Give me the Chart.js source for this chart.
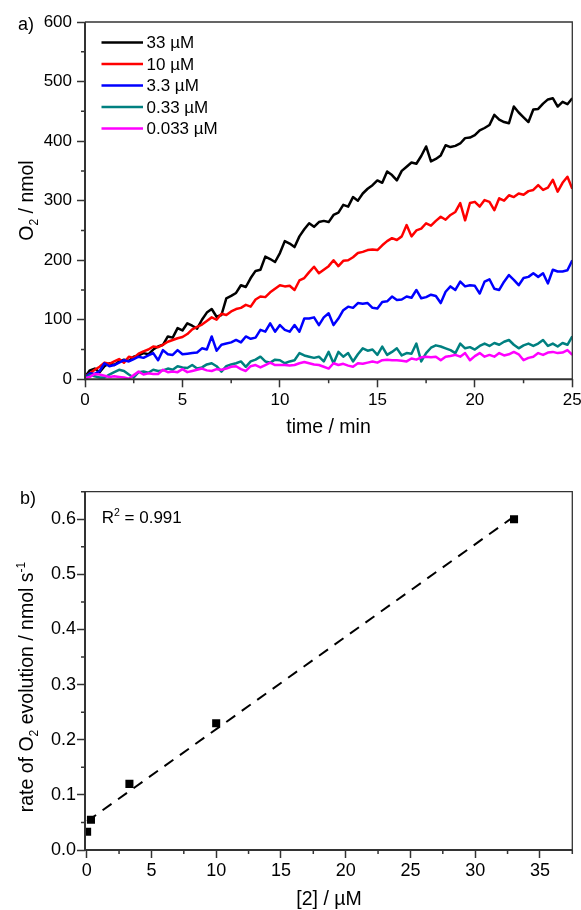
<!DOCTYPE html>
<html>
<head>
<meta charset="utf-8">
<title>O2 evolution</title>
<script src="https://cdn.jsdelivr.net/npm/chart.js@4.4.0/dist/chart.umd.min.js"></script>
<style>
  html, body { margin: 0; padding: 0; background: #fff; }
  .panel { position: absolute; left: 0; width: 581px; height: 455px; }
  #panelA { top: 0; }
  #panelB { top: 455px; }
</style>
</head>
<body>
<div class="panel" id="panelA"><canvas id="chartA"></canvas></div>
<div class="panel" id="panelB"><canvas id="chartB"></canvas></div>
<script>
'use strict';

const FONT = "'Liberation Sans', Arial, sans-serif";

// ---- a) O2 vs time ----
const TIME_MIN = [
  0, 0.25, 0.5, 0.75, 1, 1.25, 1.5, 1.75, 2, 2.25, 2.5, 2.75, 3, 3.25, 3.5, 3.75,
  4, 4.25, 4.5, 4.75, 5, 5.25, 5.5, 5.75, 6, 6.25, 6.5, 6.75, 7, 7.25, 7.5, 7.75,
  8, 8.25, 8.5, 8.75, 9, 9.25, 9.5, 9.75, 10, 10.25, 10.5, 10.75, 11, 11.25, 11.5, 11.75,
  12, 12.25, 12.5, 12.75, 13, 13.25, 13.5, 13.75, 14, 14.25, 14.5, 14.75, 15, 15.25, 15.5, 15.75,
  16, 16.25, 16.5, 16.75, 17, 17.25, 17.5, 17.75, 18, 18.25, 18.5, 18.75, 19, 19.25, 19.5, 19.75,
  20, 20.25, 20.5, 20.75, 21, 21.25, 21.5, 21.75, 22, 22.25, 22.5, 22.75, 23, 23.25, 23.5, 23.75,
  24, 24.25, 24.5, 24.75, 25
];

const O2_33uM = [
  4, 15, 18, 12, 22, 27, 24, 30, 33, 31, 38, 40, 44, 42, 50, 55,
  58, 72, 70, 86, 82, 94, 90, 85, 100, 112, 118, 105, 108, 136, 140, 145,
  158, 155, 170, 182, 184, 206, 202, 197, 212, 232, 228, 222, 240, 252, 262, 256,
  264, 266, 264, 276, 280, 293, 290, 306, 300, 312, 320, 326, 334, 330, 349, 343,
  334, 350, 357, 364, 362, 375, 391, 366, 370, 376, 393, 390, 392, 396, 405, 406,
  410, 418, 422, 427, 444, 436, 432, 430, 458, 448, 440, 432, 453, 454, 463, 470,
  472, 458, 466, 462, 472
];

const O2_10uM = [
  4, 10, 16, 21, 28, 26, 30, 34, 28, 38, 36, 43, 47, 50, 55, 54,
  58, 63, 66, 69, 71, 76, 84, 88, 92, 98, 104, 100, 110, 108, 114, 118,
  120, 125, 122, 134, 139, 138, 146, 152, 158, 156, 157, 150, 166, 170, 180, 189,
  178, 184, 190, 200, 190, 199, 200, 205, 212, 214, 217, 218, 217, 225, 232, 237,
  234, 240, 259, 240, 250, 253, 262, 258, 266, 273, 268, 276, 281, 296, 267, 296,
  298, 290, 301, 298, 284, 304, 300, 309, 306, 312, 310, 316, 318, 326, 318, 322,
  335, 315, 330, 340, 320
];

const O2_3_3uM = [
  3, 10, 9, 14, 27, 22, 24, 28, 32, 30, 34, 38, 36, 40, 44, 32,
  49, 42, 41, 49, 42, 43, 44, 45, 52, 50, 72, 48, 58, 60, 62, 66,
  62, 72, 68, 70, 83, 80, 94, 80, 91, 83, 80, 91, 80, 102, 102, 104,
  91, 104, 111, 91, 102, 116, 122, 120, 128, 127, 128, 120, 119, 130, 131, 139,
  133, 134, 139, 137, 150, 136, 138, 142, 140, 128, 147, 156, 150, 164, 156, 158,
  157, 144, 164, 168, 152, 150, 164, 175, 167, 158, 170, 172, 178, 172, 178, 161,
  184, 181, 181, 183, 200
];

const O2_0_33uM = [
  2, 7, 5, 3, 3, 8, 12, 16, 14, 8, 3, 12, 13, 11, 16, 14,
  15, 18, 16, 22, 20, 19, 24, 18, 20, 25, 27, 22, 13, 22, 25, 27,
  30, 21, 30, 33, 38, 30, 28, 33, 32, 27, 30, 32, 44, 40, 38, 36,
  38, 30, 46, 27, 46, 38, 44, 30, 42, 52, 48, 50, 41, 55, 41, 46,
  52, 40, 44, 43, 60, 30, 44, 53, 57, 55, 52, 49, 44, 60, 52, 54,
  50, 56, 60, 56, 61, 58, 63, 66, 58, 52, 57, 60, 56, 60, 66, 56,
  60, 55, 61, 58, 72
];

const O2_0_033uM = [
  2, 4, 9, 8, 6, 4, 5, 4, 3, 1, 7, 13, 8, 10, 9, 9,
  16, 12, 13, 12, 17, 12, 14, 16, 18, 15, 14, 17, 16, 18, 21, 22,
  17, 14, 22, 24, 20, 24, 28, 24, 24, 24, 23, 24, 27, 29, 27, 25,
  24, 21, 18, 27, 24, 26, 23, 21, 27, 26, 28, 30, 28, 32, 33, 32,
  32, 31, 30, 35, 33, 37, 38, 37, 38, 32, 38, 39, 41, 38, 44, 32,
  39, 44, 38, 41, 38, 44, 40, 42, 46, 42, 32, 36, 38, 44, 41, 45,
  46, 44, 45, 49, 41
];

const SERIES_LABELS = ['33 µM', '10 µM', '3.3 µM', '0.33 µM', '0.033 µM'];
const SERIES_COLORS = ['#000000', '#ff0000', '#0000ff', '#008080', '#ff00ff'];
const SERIES_VALUES = [O2_33uM, O2_10uM, O2_3_3uM, O2_0_33uM, O2_0_033uM];

const A_X_TICKS = [0, 5, 10, 15, 20, 25];
const A_Y_TICKS = [0, 100, 200, 300, 400, 500, 600];

// ---- b) rate vs concentration ----
const CONC_uM = [0.033, 0.33, 3.3, 10, 33];
const RATE = [0.033, 0.055, 0.12, 0.23, 0.60];
const FIT_X = [0.033, 33];
const FIT_Y = [0.052, 0.605];
const R2_TEXT = ' = 0.991';

const B_X_TICKS = [0, 5, 10, 15, 20, 25, 30, 35];
const B_Y_TICKS = [0, 0.1, 0.2, 0.3, 0.4, 0.5, 0.6];

// text with sub/superscript parts: [text, '' | 'sub' | 'sup']
function drawRich(ctx, parts, x, y, size, align) {
  const small = size * 0.62;
  const fontOf = k => `${k ? small : size}px ${FONT}`;
  let w = 0;
  parts.forEach(([t, k]) => { ctx.font = fontOf(k); w += ctx.measureText(t).width; });
  let cx = align === 'center' ? x - w / 2 : x;
  ctx.textAlign = 'left';
  ctx.textBaseline = 'alphabetic';
  ctx.fillStyle = '#000';
  parts.forEach(([t, k]) => {
    ctx.font = fontOf(k);
    const dy = k === 'sub' ? size * 0.28 : k === 'sup' ? -size * 0.42 : 0;
    ctx.fillText(t, cx, y + dy);
    cx += ctx.measureText(t).width;
  });
}

// frame, minor ticks and free text
const decor = {
  id: 'decor',
  afterDraw(chart, args, opts) {
    const ctx = chart.ctx;
    const { left, right, top, bottom } = chart.chartArea;
    ctx.save();

    ctx.strokeStyle = '#333';
    ctx.lineWidth = 1.3;
    ctx.beginPath();
    ctx.moveTo(left, top); ctx.lineTo(right, top); ctx.lineTo(right, bottom);
    ctx.stroke();
    ctx.lineWidth = 2;
    ctx.beginPath();
    ctx.moveTo(left, top); ctx.lineTo(left, bottom); ctx.lineTo(right, bottom);
    ctx.stroke();

    // minor ticks halfway between majors
    ctx.lineWidth = 1.5;
    const xs = chart.scales.x, ys = chart.scales.y;
    ctx.beginPath();
    for (let v = opts.minorX; v <= xs.max + 1e-9; v += 2 * opts.minorX) {
      const px = xs.getPixelForValue(v);
      ctx.moveTo(px, bottom); ctx.lineTo(px, bottom + 4);
    }
    for (let v = opts.minorY; v <= ys.max + 1e-9; v += 2 * opts.minorY) {
      const py = ys.getPixelForValue(v);
      ctx.moveTo(left, py); ctx.lineTo(left - 4, py);
    }
    ctx.stroke();

    (opts.texts || []).forEach(t => {
      ctx.save();
      ctx.translate(t.x, t.y);
      if (t.rotate) ctx.rotate(-Math.PI / 2);
      drawRich(ctx, t.parts, 0, 0, t.size, t.align);
      ctx.restore();
    });
    ctx.restore();
  }
};

// legend in the top-left corner of the plot
const cornerLegend = {
  id: 'cornerLegend',
  afterDraw(chart) {
    const ctx = chart.ctx;
    const { left, top } = chart.chartArea;
    ctx.save();
    ctx.font = `17px ${FONT}`;
    ctx.textBaseline = 'middle';
    ctx.textAlign = 'left';
    chart.data.datasets.forEach((ds, i) => {
      const y = top + 20.5 + i * 21.5;
      ctx.strokeStyle = ds.borderColor;
      ctx.lineWidth = 2.5;
      ctx.beginPath();
      ctx.moveTo(left + 16.5, y);
      ctx.lineTo(left + 58, y);
      ctx.stroke();
      ctx.fillStyle = '#000';
      ctx.fillText(ds.label, left + 61.5, y + 1);
    });
    ctx.restore();
  }
};

function axis(min, max, ticks, opts) {
  return {
    type: 'linear',
    min: min,
    max: max,
    afterBuildTicks: s => { s.ticks = ticks.map(v => ({ value: v })); },
    grid: { drawOnChartArea: false, drawTicks: true, tickLength: 8, tickColor: '#333', tickWidth: 1.5 },
    border: { display: false },
    ticks: {
      color: '#000',
      font: { family: FONT, size: opts.size },
      padding: opts.padding,
      maxRotation: 0,
      autoSkip: false,
      callback: opts.format || (v => String(v))
    },
    afterFit: opts.fit
  };
}

new Chart(document.getElementById('chartA'), {
  type: 'line',
  data: {
    // later series are drawn on top
    datasets: SERIES_VALUES.map((vals, i) => ({
      label: SERIES_LABELS[i],
      data: vals.map((v, j) => ({ x: TIME_MIN[j], y: v })),
      order: SERIES_VALUES.length - i,
      borderColor: SERIES_COLORS[i],
      borderWidth: 2.5,
      borderJoinStyle: 'round',
      pointRadius: 0,
      tension: 0
    }))
  },
  options: {
    responsive: true,
    maintainAspectRatio: false,
    animation: false,
    layout: { padding: { top: 22, right: 8.7, left: 0, bottom: 0 } },
    scales: {
      x: axis(0, 25, A_X_TICKS, {
        size: 17, padding: 3,
        fit: s => { s.height = 75.7; s.paddingLeft = 0; s.paddingRight = 0; }
      }),
      y: axis(0, 600, A_Y_TICKS, {
        size: 17, padding: 5,
        fit: s => { s.width = 85; }
      })
    },
    plugins: {
      legend: { display: false },
      tooltip: { enabled: false },
      decor: {
        minorX: 2.5,
        minorY: 50,
        texts: [
          { parts: [['a)', '']], x: 18, y: 30, size: 18 },
          { parts: [['time / min', '']], x: 328.5, y: 433, size: 19.5, align: 'center' },
          { parts: [['O', ''], ['2', 'sub'], [' / nmol', '']], x: 33, y: 200.5, size: 19.5, align: 'center', rotate: true }
        ]
      }
    }
  },
  plugins: [decor, cornerLegend]
});

new Chart(document.getElementById('chartB'), {
  type: 'scatter',
  data: {
    datasets: [
      {
        type: 'line',
        data: FIT_X.map((x, i) => ({ x: x, y: FIT_Y[i] })),
        borderColor: '#000',
        borderWidth: 2,
        borderDash: [11, 8],
        pointRadius: 0,
        tension: 0
      },
      {
        data: CONC_uM.map((x, i) => ({ x: x, y: RATE[i] })),
        pointStyle: 'rect',
        pointRadius: 5.7,
        backgroundColor: '#000',
        borderColor: '#000',
        borderWidth: 0
      }
    ]
  },
  options: {
    responsive: true,
    maintainAspectRatio: false,
    animation: false,
    layout: { padding: { top: 36.7, right: 8.7, left: 0, bottom: 0 } },
    scales: {
      x: axis(-0.13, 37.5, B_X_TICKS, {
        size: 18, padding: 2.5,
        fit: s => { s.height = 60; s.paddingLeft = 0; s.paddingRight = 0; }
      }),
      y: axis(0, 0.65, B_Y_TICKS, {
        size: 18, padding: 1,
        format: v => v.toFixed(1),
        fit: s => { s.width = 85; }
      })
    },
    plugins: {
      legend: { display: false },
      tooltip: { enabled: false },
      decor: {
        minorX: 2.5,
        minorY: 0.05,
        texts: [
          { parts: [['b)', '']], x: 20, y: 49, size: 18 },
          { parts: [['R', ''], ['2', 'sup'], [R2_TEXT, '']], x: 101.7, y: 67.8, size: 17 },
          { parts: [['[2] / µM', '']], x: 329, y: 450, size: 19.5, align: 'center' },
          { parts: [['rate of O', ''], ['2', 'sub'], [' evolution / nmol s', ''], ['-1', 'sup']], x: 33, y: 232, size: 19.5, align: 'center', rotate: true }
        ]
      }
    }
  },
  plugins: [decor]
});
</script>
</body>
</html>
